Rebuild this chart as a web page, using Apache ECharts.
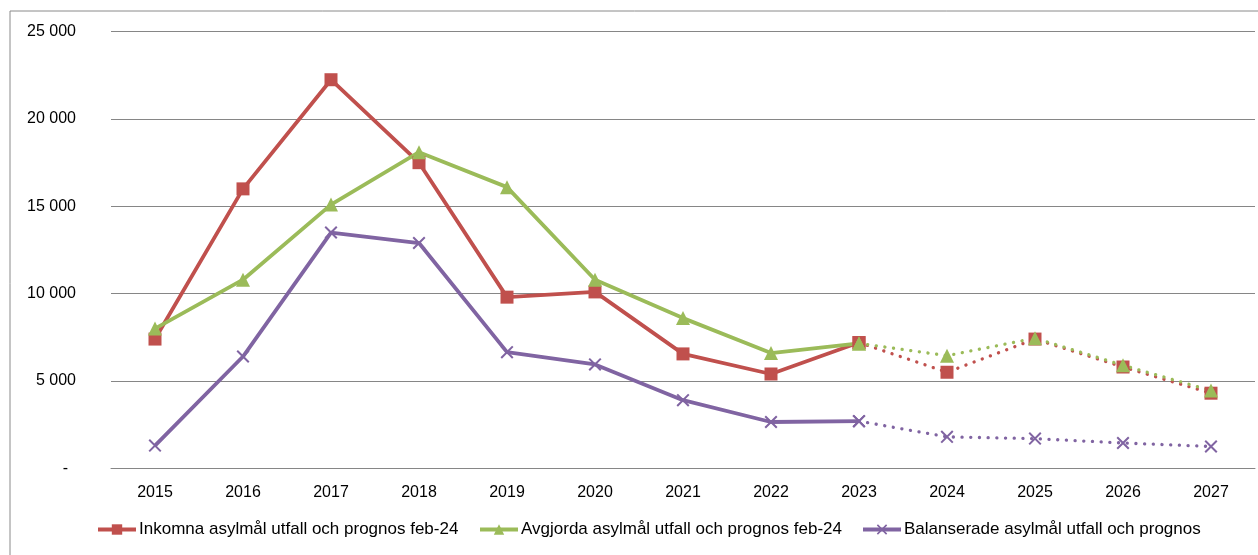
<!DOCTYPE html>
<html>
<head>
<meta charset="utf-8">
<script src="https://cdn.jsdelivr.net/npm/echarts@6/dist/echarts.min.js"></script>
<style>html,body{margin:0;padding:0;background:#fff}#c{width:1258px;height:555px}</style>
</head>
<body>
<div id="c"></div>
<script>
const years = ['2015','2016','2017','2018','2019','2020','2021','2022','2023','2024','2025','2026','2027'];
const inkomna = [7400, 16000, 22250, 17500, 9800, 10100, 6550, 5400, 7200, 5500, 7400, 5800, 4300];
const avgjorda = [8000, 10800, 15100, 18100, 16100, 10800, 8600, 6600, 7150, 6450, 7450, 5900, 4450];
const balanserade = [1300, 6400, 13500, 12900, 6650, 5950, 3900, 2650, 2700, 1800, 1700, 1450, 1250];
const names = ['Inkomna asylmål utfall och prognos feb-24', 'Avgjorda asylmål utfall och prognos feb-24', 'Balanserade asylmål utfall och prognos'];
const lastActual = '2023';

const colors = ['#C0504D', '#9BBB59', '#8064A2'];
const xPath = 'path://M0,1.1L1.1,0L10,8.9L8.9,10ZM8.9,0L10,1.1L1.1,10L0,8.9Z';
const symbols = ['rect', 'triangle', xPath];
const sizes = [13, 14, 13];
const idx = years.indexOf(lastActual);

function solidPart(arr){ return arr.map((v,i)=> i<=idx ? v : null); }
function dotPart(arr){ return arr.map((v,i)=> i>=idx ? v : null); }

const all = [inkomna, avgjorda, balanserade];
const series = [];
all.forEach((arr, k) => {
  series.push({
    name: names[k], type: 'line', data: solidPart(arr), symbol: symbols[k], symbolSize: sizes[k],
    lineStyle: {color: colors[k], width: 3.8}, itemStyle: {color: colors[k]}, connectNulls: false
  });
  series.push({
    name: names[k], type: 'line', data: dotPart(arr), symbol: symbols[k], symbolSize: sizes[k],
    lineStyle: {color: colors[k], width: 3.3, type: [0.1, 8.6], cap: 'round'}, itemStyle: {color: colors[k]}, connectNulls: false
  });
});
const legendLefts = [96, 478, 861];
const legends = names.map((n, k) => ({
  data: [n], top: 521, left: legendLefts[k], padding: 0, itemGap: 0, itemWidth: 38, itemHeight: 13,
  lineStyle: {width: 4},
  textStyle: {fontSize: 17, color: '#000', fontFamily: 'Liberation Sans', padding: [0,0,0,-2]}
}));
const chart = echarts.init(document.getElementById('c'), null, {renderer: 'canvas'});
chart.setOption({
  animation: false,
  backgroundColor: '#fff',
  textStyle: {fontFamily: 'Liberation Sans'},
  graphic: [{type: 'rect', shape: {x: 10, y: 11, width: 1300, height: 700}, style: {fill: 'none', stroke: '#8a8a8a', lineWidth: 1}, silent: true, z: -1}],
  grid: {left: 111, right: 3, top: 31.7, bottom: 86.7, containLabel: false},
  legend: legends,
  xAxis: {
    type: 'category', data: years, boundaryGap: true,
    axisLine: {show: true, lineStyle: {color: '#868686'}}, axisTick: {show: false},
    axisLabel: {color: '#000', fontSize: 16, margin: 16}
  },
  yAxis: {
    type: 'value', min: 0, max: 25000, interval: 5000,
    axisLine: {show: false}, axisTick: {show: false},
    splitLine: {lineStyle: {color: '#868686', width: 1}},
    axisLabel: {color: '#000', fontSize: 16, margin: 35,
      rich: {z: {fontSize: 16, color: '#000', padding: [0, 8, 0, 0]}},
      formatter: v => v === 0 ? '{z|-}' : String(v).replace(/\B(?=(\d{3})+(?!\d))/g, ' ')}
  },
  series: series
});
</script>
</body>
</html>
